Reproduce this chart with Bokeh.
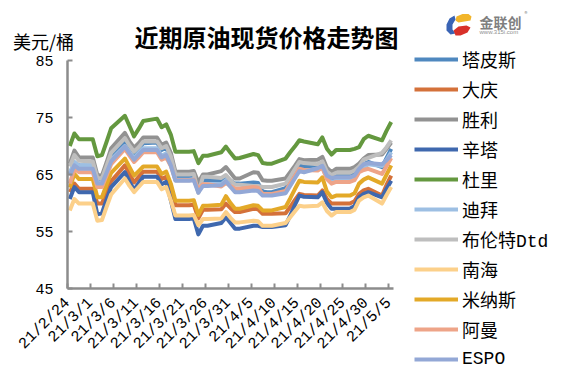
import math
import pandas as pd
from bokeh.plotting import figure
from bokeh.models import Range1d, FixedTicker, Legend, LegendItem, Label, PolyAnnotation
from bokeh.embed import file_html
from bokeh.resources import INLINE

# ---------------- data ----------------
dates = [
    "2021-02-24", "2021-02-25", "2021-02-26",
    "2021-03-01", "2021-03-02", "2021-03-03", "2021-03-04", "2021-03-05",
    "2021-03-08", "2021-03-09", "2021-03-10", "2021-03-11", "2021-03-12",
    "2021-03-15", "2021-03-16", "2021-03-17", "2021-03-18", "2021-03-19",
    "2021-03-22", "2021-03-23", "2021-03-24", "2021-03-25", "2021-03-26",
    "2021-03-29", "2021-03-30", "2021-03-31", "2021-04-01", "2021-04-02",
    "2021-04-05", "2021-04-06", "2021-04-07", "2021-04-08", "2021-04-09",
    "2021-04-12", "2021-04-13", "2021-04-14", "2021-04-15", "2021-04-16",
    "2021-04-19", "2021-04-20", "2021-04-21", "2021-04-22", "2021-04-23",
    "2021-04-26", "2021-04-27", "2021-04-28", "2021-04-29", "2021-04-30",
    "2021-05-03", "2021-05-04", "2021-05-05",
]

tick_labels = ["21/2/24", "21/3/1", "21/3/6", "21/3/11", "21/3/16", "21/3/21",
               "21/3/26", "21/3/31", "21/4/5", "21/4/10", "21/4/15", "21/4/20",
               "21/4/25", "21/4/30", "21/5/5"]
y_ticks = [45, 55, 65, 75, 85]

tapis = [65.1, 67.0, 66.6,
         66.6, 63.9, 63.9, 66.0, 68.0,
         70.9, 69.6, 68.4, 69.5, 70.5,
         70.6, 69.3, 69.7, 67.8, 64.5,
         64.5, 64.6, 63.0, 64.0, 64.0,
         63.9, 64.5, 63.9, 63.4, 63.4,
         63.6, 63.5, 62.0, 61.9, 61.9,
         62.6, 63.9, 65.3, 66.6, 66.4,
         66.3, 66.8, 64.9, 64.2, 64.8,
         64.8, 65.1, 66.2, 66.8, 67.2,
         66.3, 67.9, 69.5]
daqing = [61.9, 63.4, 62.5,
          62.5, 59.9, 59.9, 61.9, 63.8,
          66.6, 65.1, 63.6, 64.6, 65.5,
          65.5, 64.2, 64.6, 62.6, 59.6,
          59.6, 59.7, 57.3, 58.8, 58.8,
          58.9, 59.9, 59.1, 58.4, 58.4,
          59.0, 58.9, 58.1, 58.1, 58.1,
          58.2, 59.3, 60.5, 61.6, 61.4,
          61.3, 62.2, 60.7, 59.9, 59.9,
          59.9, 60.3, 61.6, 62.2, 62.5,
          61.3, 63.2, 64.8]
shengli = [66.9, 69.2, 68.0,
           68.0, 64.9, 64.8, 67.1, 69.6,
           72.3, 70.8, 69.7, 70.5, 71.5,
           71.5, 70.2, 70.6, 68.8, 65.5,
           65.5, 65.6, 63.6, 65.0, 65.0,
           65.6, 66.3, 65.3, 64.3, 64.3,
           65.4, 65.3, 64.0, 63.9, 63.9,
           64.3, 65.4, 66.5, 67.7, 67.5,
           67.6, 68.1, 66.2, 65.4, 66.0,
           66.0, 66.3, 66.9, 67.8, 68.4,
           68.5, 69.5, 70.6]
cinta = [60.7, 62.8, 61.9,
         61.9, 58.0, 58.2, 60.6, 62.8,
         65.4, 63.8, 62.3, 63.5, 64.6,
         64.6, 63.3, 63.7, 60.5, 57.2,
         57.2, 57.3, 54.5, 56.0, 56.0,
         56.5, 57.5, 56.5, 55.5, 55.5,
         56.0, 56.0, 55.8, 55.8, 55.8,
         56.1, 57.8, 59.6, 61.3, 61.1,
         61.0, 61.9, 60.0, 59.0, 59.0,
         59.0, 59.5, 61.0, 61.6, 61.9,
         61.0, 62.5, 63.9]
duri = [70.0, 72.2, 71.2,
        71.2, 68.2, 68.4, 70.7, 73.1,
        75.3, 73.5, 71.7, 73.0, 74.4,
        74.8, 73.3, 73.8, 72.0, 69.0,
        69.0, 69.1, 67.0, 68.3, 68.3,
        68.9, 69.9, 68.8, 67.8, 67.9,
        68.6, 68.4, 67.0, 66.9, 66.9,
        67.8, 68.9, 69.9, 71.0, 70.8,
        70.3, 71.5, 69.5, 68.5, 69.3,
        69.3, 69.5, 69.8, 71.2, 71.8,
        71.0, 72.7, 74.2]
dubai = [65.3, 67.2, 66.6,
         66.6, 63.6, 63.6, 65.6, 67.6,
         70.0, 68.9, 67.9, 68.8, 69.6,
         69.6, 68.3, 68.7, 67.0, 64.1,
         64.1, 64.2, 62.0, 63.3, 63.3,
         63.3, 64.0, 63.0, 62.1, 62.1,
         62.4, 62.3, 61.4, 61.4, 61.4,
         62.0, 63.2, 64.5, 65.8, 65.6,
         66.0, 66.3, 64.3, 63.6, 64.0,
         64.0, 64.3, 65.5, 66.3, 66.8,
         66.5, 67.6, 68.9]
brent = [66.4, 68.4, 67.4,
         67.3, 64.4, 64.3, 66.5, 68.8,
         71.4, 70.1, 69.0, 69.8, 70.8,
         70.8, 69.6, 70.0, 68.2, 65.0,
         65.0, 65.1, 61.8, 64.6, 64.6,
         64.4, 64.9, 64.0, 63.2, 63.2,
         63.0, 63.0, 62.8, 62.8, 62.8,
         63.4, 64.6, 65.9, 67.2, 67.0,
         66.8, 67.3, 65.5, 64.9, 65.3,
         65.3, 65.7, 66.4, 67.6, 67.9,
         68.8, 69.8, 71.0]
nanhai = [58.7, 60.7, 59.9,
          59.9, 56.9, 57.0, 59.3, 61.5,
          64.3, 63.0, 61.9, 62.8, 63.7,
          63.7, 62.4, 62.8, 60.5, 57.8,
          57.8, 57.9, 56.1, 57.2, 57.2,
          57.3, 58.4, 57.4, 56.6, 56.6,
          56.9, 56.8, 56.0, 56.0, 56.0,
          56.5, 57.5, 58.5, 59.5, 59.4,
          59.5, 60.1, 58.6, 57.8, 58.4,
          58.4, 58.8, 60.4, 61.0, 61.3,
          59.9, 61.4, 62.8]
minas = [62.7, 65.1, 64.2,
         64.2, 61.0, 61.0, 63.2, 65.3,
         67.8, 66.3, 64.8, 65.6, 66.4,
         66.4, 65.1, 65.5, 63.4, 60.4,
         60.4, 60.5, 57.9, 59.5, 59.5,
         59.7, 61.2, 60.0, 59.0, 59.0,
         59.6, 59.5, 58.7, 58.7, 58.7,
         59.3, 60.8, 62.4, 63.9, 63.7,
         63.6, 64.5, 62.0, 61.0, 61.3,
         61.3, 61.7, 63.4, 64.1, 64.5,
         63.4, 65.0, 66.6]
oman = [63.4, 66.0, 65.4,
        65.4, 62.8, 62.8, 64.8, 66.8,
        69.5, 68.3, 67.2, 68.0, 68.9,
        68.9, 67.6, 68.0, 66.5, 64.0,
        64.0, 64.1, 62.4, 63.3, 63.3,
        62.9, 63.5, 63.0, 62.5, 62.5,
        62.8, 62.7, 61.6, 61.6, 61.6,
        62.1, 63.4, 64.7, 66.0, 65.8,
        65.7, 66.2, 64.2, 63.4, 63.7,
        63.7, 64.0, 65.4, 65.8, 66.0,
        65.1, 66.5, 67.9]
espo = [64.8, 66.6, 66.0,
        66.0, 63.4, 63.4, 65.3, 67.3,
        69.9, 68.7, 67.6, 68.5, 69.3,
        69.3, 68.0, 68.4, 66.6, 63.9,
        63.9, 64.0, 61.8, 63.0, 63.0,
        63.1, 63.8, 62.8, 61.9, 61.9,
        62.2, 62.1, 61.3, 61.3, 61.3,
        61.7, 63.0, 64.3, 65.6, 65.4,
        66.1, 66.5, 64.8, 64.4, 64.5,
        64.5, 64.8, 66.0, 66.8, 67.0,
        66.8, 67.5, 68.4]

names = ["塔皮斯", "大庆", "胜利", "辛塔", "杜里", "迪拜", "布伦特Dtd", "南海", "米纳斯", "阿曼", "ESPO"]
series = [tapis, daqing, shengli, cinta, duri, dubai, brent, nanhai, minas, oman, espo]
colors = ["#4F88BF", "#D4713A", "#929292", "#3F68AE", "#64983F", "#9DBFE3",
          "#BEBEBE", "#FCD08A", "#E3A928", "#EEA488", "#93A8D6"]

# ---------------- layout constants (pixels) ----------------
W, H = 572, 374            # figure size (Bokeh's page template has no body margin)
AX_LEFT, AX_TOP = 67, 60   # where the value axis / top of the value range sit in the figure
AX_W, AX_H = 326, 228      # length of the date axis / value axis

start = pd.Timestamp(dates[0])
n_days = (pd.Timestamp(dates[-1]) - start).days + 1
# Excel date axis "between tick marks": each date sits in the middle of its day slot
x = [(pd.Timestamp(d) - start).days + 0.5 for d in dates]
tick_pos = []
for lab in tick_labels:
    yy, mm, dd = lab.split("/")
    tick_pos.append((pd.Timestamp(2000 + int(yy), int(mm), int(dd)) - start).days)

px_day = AX_W / n_days
px_val = AX_H / (y_ticks[-1] - y_ticks[0])
x_range = Range1d(-AX_LEFT / px_day, (W - AX_LEFT) / px_day)
y_range = Range1d(y_ticks[0] - (H - AX_TOP - AX_H) / px_val, y_ticks[-1] + AX_TOP / px_val)

AXIS = "#8C8C8C"
MONO = "'Liberation Mono', 'Noto Sans CJK SC'"
CJK = "'Noto Sans CJK SC'"

p = figure(width=W, height=H, output_backend="svg", toolbar_location=None,
           x_range=x_range, y_range=y_range,
           min_border_left=0, min_border_right=0, min_border_top=0, min_border_bottom=0)
p.title.visible = False
p.outline_line_color = None
p.xgrid.visible = False
p.ygrid.visible = False
p.background_fill_color = "white"
p.border_fill_color = "white"

renderers = []
for name, vals, col in zip(names, series, colors):
    r = p.line(x, vals, line_color=col, line_width=4, line_join="round")
    renderers.append(r)

for ax in (p.xaxis[0], p.yaxis[0]):
    ax.axis_line_color = AXIS
    ax.axis_line_width = 2.5
    ax.major_tick_line_color = AXIS
    ax.major_tick_line_width = 2
    ax.major_tick_in = 5
    ax.major_tick_out = 0
    ax.minor_tick_line_color = None
    ax.major_label_text_font = "Liberation Mono"
    ax.major_label_text_color = "#000000"

p.xaxis.fixed_location = y_ticks[0]
p.xaxis.bounds = (0, n_days)
p.xaxis.ticker = FixedTicker(ticks=tick_pos)
p.xaxis.major_label_overrides = {t: l for t, l in zip(tick_pos, tick_labels)}
p.xaxis.major_label_orientation = math.pi / 4
p.xaxis.major_label_text_font_size = "15.5px"
p.xaxis.major_label_standoff = 12

p.yaxis.fixed_location = 0
p.yaxis.bounds = (y_ticks[0], y_ticks[-1])
p.yaxis.ticker = FixedTicker(ticks=y_ticks)
p.yaxis.major_label_text_font_size = "15px"
p.yaxis.major_label_standoff = 14


# ---------------- annotations (screen units inside the full-size frame) ----------------
def sx(rx):
    return rx


def sy(ry):
    return H - ry


legend = Legend(items=[LegendItem(label=n, renderers=[r]) for n, r in zip(names, renderers)],
                location=(sx(414), 2), orientation="vertical",
                padding=0, margin=0, spacing=4,
                glyph_width=44, glyph_height=26, label_height=26, label_standoff=4,
                label_text_font=MONO, label_text_font_size="18px", label_text_color="#000000",
                border_line_color=None, background_fill_alpha=0)
p.add_layout(legend)

p.add_layout(Label(x=sx(266), y=sy(35.5), x_units="screen", y_units="screen",
                   text="近期原油现货价格走势图", text_font=CJK, text_font_size="24px",
                   text_font_style="bold", text_color="#000000",
                   text_align="center", text_baseline="middle"))
p.add_layout(Label(x=sx(12.5), y=sy(40), x_units="screen", y_units="screen",
                   text="美元/桶", text_font=CJK, text_font_size="18px", text_color="#000000",
                   text_align="left", text_baseline="middle"))

# logo
logo_parts = [
    ("#F2B52A", [456, 462, 468, 471, 470, 464, 458, 455], [16, 13.5, 13.5, 16, 20, 21, 22, 20]),
    ("#3A64B5", [446, 449, 454, 455, 452, 452, 455, 450, 446], [24, 18, 15, 19, 24, 29, 33, 34, 30]),
    ("#D8312A", [453, 458, 466, 470, 467, 460, 455], [30, 26, 25, 27, 32, 35, 35]),
]
for col, xs_, ys_ in logo_parts:
    p.add_layout(PolyAnnotation(xs=[sx(v) for v in xs_], ys=[sy(v) for v in ys_],
                                xs_units="screen", ys_units="screen",
                                fill_color=col, fill_alpha=1, line_color=None))
p.add_layout(Label(x=sx(479), y=sy(21), x_units="screen", y_units="screen",
                   text="金联创", text_font=CJK, text_font_size="14px", text_font_style="bold",
                   text_color="#7F7F7F", text_align="left", text_baseline="middle"))
p.add_layout(Label(x=sx(524), y=sy(13), x_units="screen", y_units="screen",
                   text="®", text_font=CJK, text_font_size="6px",
                   text_color="#7F7F7F", text_align="left", text_baseline="middle"))
p.add_layout(Label(x=sx(479), y=sy(31), x_units="screen", y_units="screen",
                   text="www.315i.com", text_font="Liberation Sans", text_font_size="6px",
                   text_color="#8F8F8F", text_align="left", text_baseline="middle"))

open("out.html", "w").write(file_html(p, INLINE))
